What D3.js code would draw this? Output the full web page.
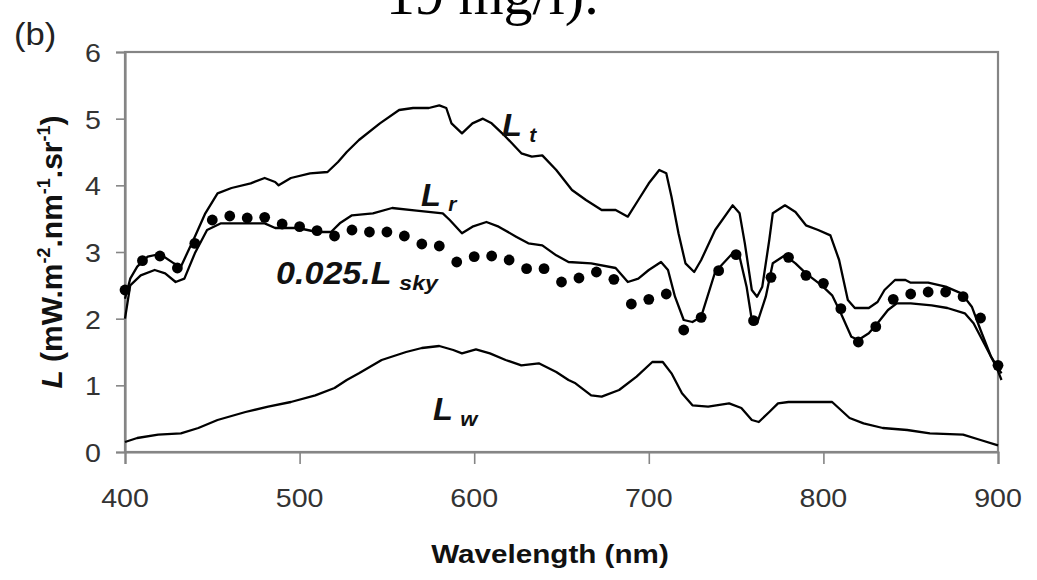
<!DOCTYPE html>
<html><head><meta charset="utf-8">
<script src="https://cdn.jsdelivr.net/npm/d3@7"></script>
<style>body{margin:0;background:#fff}svg{display:block}</style>
</head><body>
<svg id="c" width="1037" height="580"></svg>
<script>
// ---------- data ----------
const xTicks = [400, 500, 600, 700, 800, 900];
const yTicks = [0, 1, 2, 3, 4, 5, 6];

// L_t : total radiance [wavelength nm, L]
const Lt = [[400,2.30],[403,2.60],[407,2.78],[413,2.93],[420,2.97],[428,2.83],[432,2.78],[440,3.23],[446,3.58],[453,3.88],[461,3.96],[472,4.03],[480,4.11],[486,4.05],[488,4.00],[495,4.11],[506,4.18],[516,4.20],[522,4.35],[527,4.50],[534,4.68],[546,4.93],[557,5.13],[565,5.16],[574,5.16],[580,5.20],[584,5.16],[587,4.93],[593,4.78],[599,4.93],[605,5.00],[610,4.93],[618,4.73],[627,4.48],[633,4.43],[639,4.45],[647,4.23],[656,3.93],[664,3.78],[673,3.63],[681,3.63],[688,3.53],[694,3.78],[700,4.03],[706,4.23],[710,4.18],[713,3.83],[717,3.28],[721,2.83],[726,2.70],[730,2.88],[738,3.33],[748,3.70],[752,3.58],[755,3.13],[759,2.43],[762,2.33],[765,2.48],[769,3.18],[771,3.58],[778,3.70],[784,3.60],[790,3.40],[797,3.33],[804,3.25],[809,2.88],[814,2.28],[818,2.16],[826,2.16],[831,2.25],[835,2.43],[841,2.58],[847,2.58],[850,2.54],[860,2.54],[870,2.48],[879,2.38],[885,2.18],[890,1.83],[896,1.43],[902,1.18]];

// L_r : reflected radiance
const Lr = [[400,2.00],[403,2.50],[409,2.65],[417,2.73],[423,2.68],[429,2.55],[434,2.60],[440,2.98],[447,3.33],[455,3.43],[466,3.43],[480,3.43],[486,3.36],[499,3.36],[510,3.30],[518,3.30],[523,3.43],[530,3.55],[542,3.58],[553,3.66],[567,3.62],[582,3.58],[586,3.48],[593,3.28],[599,3.38],[607,3.45],[614,3.38],[624,3.23],[631,3.13],[639,3.10],[647,2.95],[654,2.85],[667,2.83],[681,2.76],[688,2.55],[694,2.60],[700,2.73],[707,2.85],[711,2.73],[715,2.33],[720,1.98],[725,1.95],[730,2.03],[738,2.70],[748,2.98],[752,2.93],[756,2.48],[759,1.98],[762,1.93],[767,2.33],[771,2.83],[778,2.95],[784,2.83],[790,2.68],[799,2.50],[805,2.35],[810,2.08],[816,1.73],[820,1.68],[826,1.78],[831,1.93],[837,2.13],[842,2.23],[850,2.23],[862,2.20],[871,2.16],[881,2.08],[886,1.93],[892,1.63],[899,1.28],[902,1.08]];

// L_w : water-leaving radiance
const Lw = [[400,0.15],[407,0.21],[419,0.26],[432,0.28],[442,0.36],[453,0.48],[469,0.60],[482,0.68],[495,0.75],[509,0.85],[520,0.96],[527,1.08],[534,1.18],[547,1.38],[561,1.50],[570,1.56],[580,1.59],[588,1.53],[593,1.48],[601,1.54],[609,1.48],[618,1.38],[627,1.30],[637,1.33],[647,1.20],[654,1.08],[658,1.03],[667,0.85],[673,0.83],[683,0.93],[693,1.13],[702,1.35],[708,1.35],[713,1.18],[719,0.88],[725,0.70],[734,0.68],[746,0.73],[753,0.66],[759,0.48],[763,0.45],[769,0.60],[774,0.73],[780,0.75],[805,0.75],[815,0.51],[823,0.43],[834,0.36],[848,0.33],[861,0.28],[880,0.26],[890,0.18],[900,0.10]];

// 0.025 * L_sky (dots)
const skyWl = [400,410,420,430,440,450,460,470,480,490,500,510,520,530,540,550,560,570,580,590,600,610,620,630,640,650,660,670,680,690,700,710,720,730,740,750,760,770,780,790,800,810,820,830,840,850,860,870,880,890,900];
const skyVal = [2.43,2.87,2.94,2.76,3.13,3.48,3.54,3.51,3.52,3.42,3.38,3.32,3.24,3.33,3.30,3.30,3.24,3.12,3.09,2.85,2.93,2.94,2.88,2.75,2.75,2.55,2.61,2.70,2.59,2.22,2.29,2.37,1.83,2.02,2.72,2.96,1.97,2.62,2.92,2.65,2.53,2.15,1.65,1.88,2.29,2.37,2.40,2.40,2.33,2.01,1.30];

// ---------- drawing ----------
const svg = d3.select('#c');
const M = {l:125, r:998, t:52, b:452};
const x = d3.scaleLinear().domain([400,900]).range([M.l, M.r]);
const y = d3.scaleLinear().domain([0,6]).range([M.b, M.t]);
const AX = '#858585', TXT = '#333';
const SANS = 'Liberation Sans, Arial, Helvetica, sans-serif';

// text helper with slight horizontal stretch (the reference is stretched)
function stext(px, py, str, opts){
  const g = svg.append('g').attr('transform', `translate(${px},${py}) scale(${opts.sx||1},1)`);
  const t = g.append('text').attr('x',0).attr('y',0)
    .attr('font-family', opts.family||SANS).attr('font-size', opts.size)
    .attr('fill', opts.fill||'#000')
    .attr('text-anchor', opts.anchor||'start');
  if (opts.weight) t.attr('font-weight', opts.weight);
  if (opts.style) t.attr('font-style', opts.style);
  t.text(str);
  return t;
}

// partial caption above chart (cut off at top, as in the source figure)
stext(386, 14, '19 mg/l).', {size:58, family:'Liberation Serif, Times New Roman, serif'});
// panel label
stext(14, 45, '(b)', {size:32, fill:'#222', sx:1.08});

// frame
svg.append('rect').attr('x',M.l).attr('y',M.t).attr('width',M.r-M.l).attr('height',M.b-M.t)
  .attr('fill','none').attr('stroke',AX).attr('stroke-width',2.2);

// axes
const gx = svg.append('g').attr('transform',`translate(0,${M.b})`)
  .call(d3.axisBottom(x).tickValues(xTicks).tickSize(12).tickFormat(''));
const gy = svg.append('g').attr('transform',`translate(${M.l},0)`)
  .call(d3.axisLeft(y).tickValues(yTicks).tickSize(9).tickFormat(''));
[gx,gy].forEach(g=>{
  g.select('.domain').attr('stroke',AX).attr('stroke-width',2.2);
  g.selectAll('.tick line').attr('stroke',AX).attr('stroke-width',1.6);
});
xTicks.forEach(v=>stext(x(v), 507, String(v), {size:26, fill:TXT, anchor:'middle', sx:1.1}));
yTicks.forEach(v=>stext(101, y(v)+10, String(v), {size:26, fill:TXT, anchor:'end', sx:1.1}));

// axis titles
stext(550, 563, 'Wavelength (nm)', {size:26, weight:'bold', fill:'#111', anchor:'middle', sx:1.14});

const yt = svg.append('text').attr('transform','translate(62,252) rotate(-90)')
  .attr('font-family',SANS).attr('font-size',30).attr('font-weight','bold')
  .attr('fill','#111').attr('text-anchor','middle');
yt.append('tspan').attr('font-style','italic').text('L');
yt.append('tspan').text(' (mW.m');
yt.append('tspan').attr('font-size',18).attr('dy',-12).text('-2');
yt.append('tspan').attr('dy',12).text('.nm');
yt.append('tspan').attr('font-size',18).attr('dy',-12).text('-1');
yt.append('tspan').attr('dy',12).text('.sr');
yt.append('tspan').attr('font-size',18).attr('dy',-12).text('-1');
yt.append('tspan').attr('dy',12).text(')');

// lines
const line = d3.line().x(d=>x(d[0])).y(d=>y(d[1])).curve(d3.curveLinear);
[Lt, Lr, Lw].forEach(s=>{
  svg.append('path').datum(s).attr('d', line).attr('fill','none')
    .attr('stroke','#000').attr('stroke-width',2.3).attr('stroke-linejoin','round');
});

// dots
svg.append('g').selectAll('circle').data(skyWl).join('circle')
  .attr('cx',(d)=>x(d)).attr('cy',(d,i)=>y(skyVal[i])).attr('r',5.4).attr('fill','#000');

// series labels
function seriesLabel(px, py, main, sub, size, subSize, subDy, sx){
  const g = svg.append('g').attr('transform',`translate(${px},${py}) scale(${sx||1},1)`);
  const t = g.append('text').attr('x',0).attr('y',0)
    .attr('font-family',SANS).attr('font-weight','bold').attr('font-style','italic')
    .attr('font-size',size).attr('fill','#111');
  t.append('tspan').text(main);
  t.append('tspan').attr('font-size',subSize).attr('dx',7).attr('dy',subDy).text(sub);
  return t;
}
seriesLabel(502, 136, 'L', 't', 31, 20, 6, 1.05);
seriesLabel(421, 206, 'L', 'r', 31, 20, 5, 1.05);
seriesLabel(276, 284, '0.025.L', 'sky', 31, 21, 6, 1.1);
seriesLabel(433, 420, 'L', 'w', 31, 21, 6, 1.05);
</script>
</body></html>
